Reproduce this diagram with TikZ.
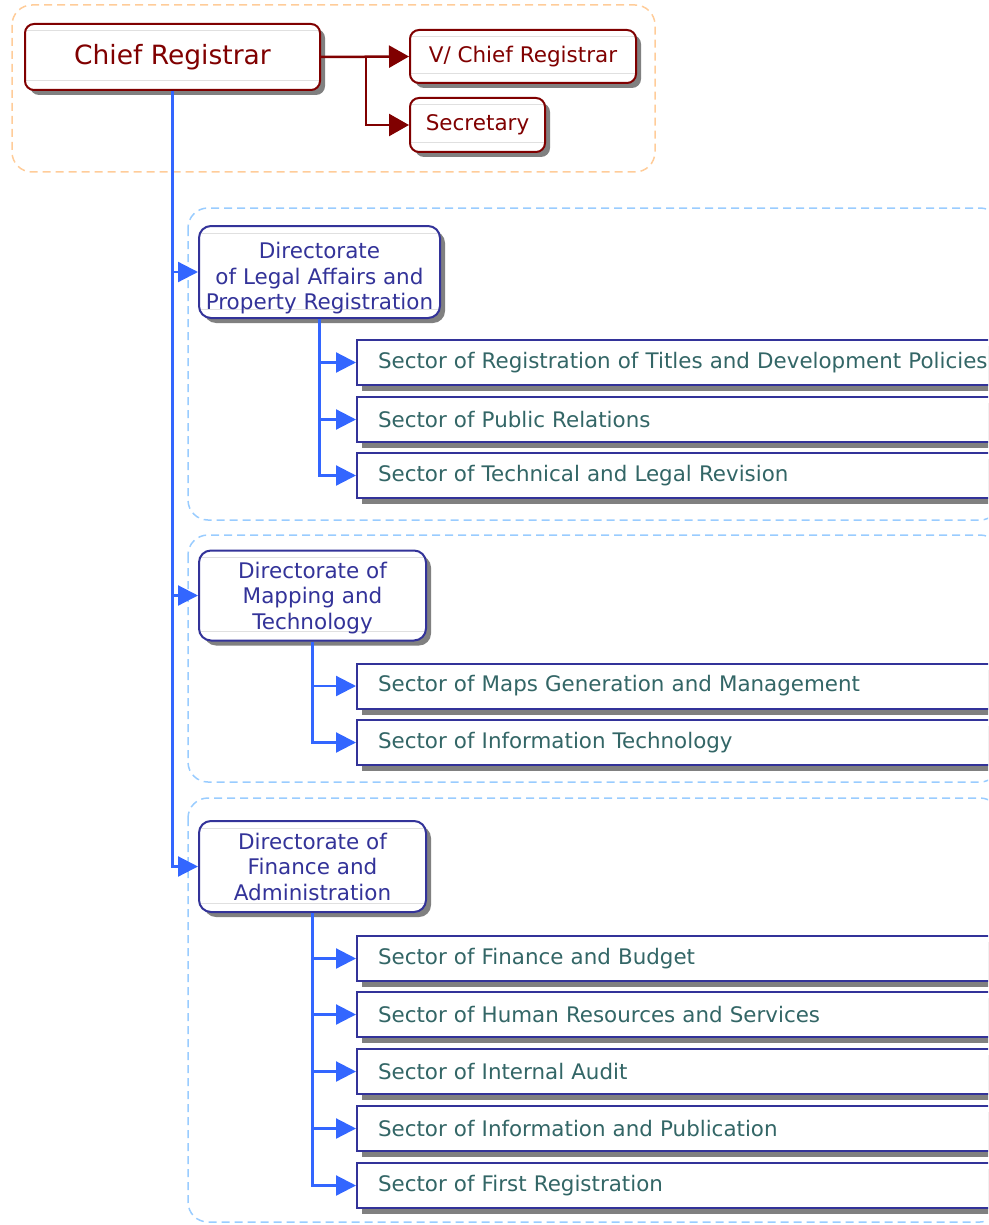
\documentclass[tikz,border=0pt]{standalone}
\usepackage{fontspec}
\setmainfont{DejaVu Sans}
\usetikzlibrary{arrows.meta,shadows}
\definecolor{chiefred}{HTML}{800000}
\definecolor{dirblue}{HTML}{333399}
\definecolor{linkblue}{HTML}{3366FF}
\definecolor{secteal}{HTML}{336666}
\definecolor{grouporange}{HTML}{FFCC99}
\definecolor{groupblue}{HTML}{99CCFF}
\definecolor{shadowgray}{HTML}{808080}

\begin{document}
\begin{tikzpicture}[x=1pt,y=-1pt,
  gloss/.style={path picture={
    \draw[black!12,line width=1pt] ([yshift=-7pt]path picture bounding box.north west) -- ([yshift=-7pt]path picture bounding box.north east);
    \draw[black!12,line width=1pt] ([yshift=9pt]path picture bounding box.south west) -- ([yshift=9pt]path picture bounding box.south east);}},
  redbox/.style={draw=chiefred,line width=2pt,fill=white,rounded corners=9pt,text=chiefred,gloss,
    drop shadow={shadow xshift=5pt,shadow yshift=-5pt,fill=shadowgray,opacity=1},
    inner sep=2pt,font=\fontsize{21.5}{26}\selectfont},
  dirbox/.style={draw=dirblue,line width=2pt,fill=white,rounded corners=12pt,text=dirblue,gloss,
    drop shadow={shadow xshift=5pt,shadow yshift=-5pt,fill=shadowgray,opacity=1},
    align=center,inner sep=2pt,font=\fontsize{21.5}{25.5}\selectfont},
  secbox/.style={draw=dirblue,line width=2pt,fill=white,text=secteal,anchor=west,
    drop shadow={shadow xshift=5pt,shadow yshift=-6pt,fill=shadowgray,opacity=1},
    minimum height=45pt,text width=610pt,inner xsep=21pt,align=left,
    font=\fontsize{21.4}{25}\selectfont},
  group/.style={dash pattern=on 8pt off 5pt,line width=1.5pt,rounded corners=20pt},
  redlink/.style={draw=chiefred,line width=2.5pt,-{Triangle[length=20pt,width=22pt]}},
  bluelink/.style={draw=linkblue,line width=2.2pt,-{Triangle[length=20pt,width=20pt]}}]
\useasboundingbox (0,0) rectangle (988,1225);
\clip (0,0) rectangle (988,1225);
% groups
\draw[group,grouporange] (12,5) rectangle (655,172);
\draw[group,groupblue] (188,208) rectangle (1000,520);
\draw[group,groupblue] (188,535) rectangle (1000,782);
\draw[group,groupblue] (188,798) rectangle (1000,1222);
%
% top level
\node[redbox,minimum width=295pt,minimum height=66pt,font=\fontsize{26.5}{30}\selectfont] (chief) at (172.5,57) {Chief Registrar};
\node[redbox,minimum width=226pt,minimum height=53pt] (vchief) at (523,56.5) {V/ Chief Registrar};
\node[redbox,minimum width=135pt,minimum height=54pt] (secr) at (477.5,125) {Secretary};
%
% directorates
\node[dirbox,minimum width=241pt,minimum height=92pt,text height=80pt] (legal) at (319.5,272) {Directorate\\of Legal Affairs and\\Property Registration};
\node[dirbox,minimum width=227pt,minimum height=90pt,text height=72pt] (mapping) at (312.5,595.5) {Directorate of\\Mapping and\\Technology};
\node[dirbox,minimum width=227pt,minimum height=91pt] (finance) at (312.5,866.5) {Directorate of\\Finance and\\Administration};
%
% sectors
\node[secbox] (titles) at (356,362.5) {Sector of Registration of Titles and Development Policies};
\node[secbox] (public) at (356,419.5) {Sector of Public Relations};
\node[secbox] (revision) at (356,475.5) {Sector of Technical and Legal Revision};
%
\node[secbox] (maps) at (356,686) {Sector of Maps Generation and Management};
\node[secbox] (infotech) at (356,742.5) {Sector of Information Technology};
%
\node[secbox] (budget) at (356,958.5) {Sector of Finance and Budget};
\node[secbox] (hr) at (356,1014.5) {Sector of Human Resources and Services};
\node[secbox] (audit) at (356,1071.5) {Sector of Internal Audit};
\node[secbox] (infopub) at (356,1128.5) {Sector of Information and Publication};
\node[secbox] (first) at (356,1185.5) {Sector of First Registration};
%
% links
\coordinate (redfork) at ([xshift=45pt]chief.east);
\draw[redlink] (chief.east) -- (vchief.west);
\draw[redlink] (redfork) |- (secr.west);
%
\draw[bluelink] (chief.south) |- (legal.west);
\draw[bluelink] (chief.south) |- (mapping.west);
\draw[bluelink] (chief.south) |- (finance.west);
%
\draw[bluelink] (legal.south) |- (titles.west);
\draw[bluelink] (legal.south) |- (public.west);
\draw[bluelink] (legal.south) |- (revision.west);
%
\draw[bluelink] (mapping.south) |- (maps.west);
\draw[bluelink] (mapping.south) |- (infotech.west);
%
\draw[bluelink] (finance.south) |- (budget.west);
\draw[bluelink] (finance.south) |- (hr.west);
\draw[bluelink] (finance.south) |- (audit.west);
\draw[bluelink] (finance.south) |- (infopub.west);
\draw[bluelink] (finance.south) |- (first.west);
\end{tikzpicture}
\end{document}
